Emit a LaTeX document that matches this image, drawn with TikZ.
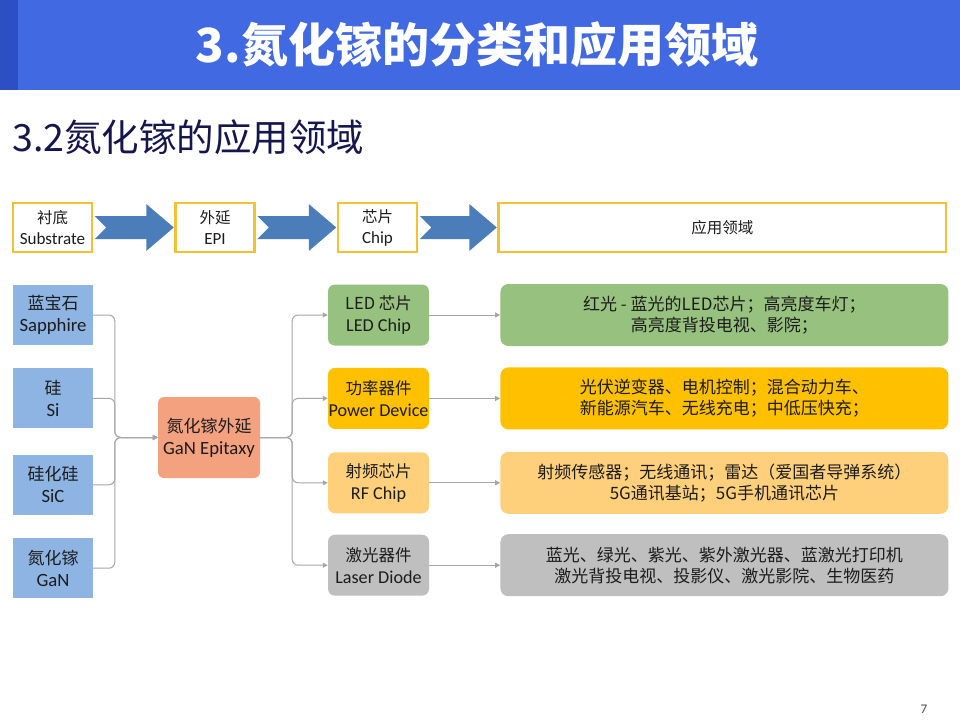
\documentclass[tikz,border=0pt]{standalone}
\usepackage{fontspec}
\setmainfont{Noto Sans CJK SC}
\newfontfamily\latinfont[Scale=1.1]{Carlito}
\usetikzlibrary{arrows.meta,calc,positioning}

\definecolor{barblue}{HTML}{4169E1}
\definecolor{barstrip}{HTML}{2D4FC4}
\definecolor{headnavy}{HTML}{16164F}
\definecolor{stagegold}{HTML}{F2C232}
\definecolor{arrowblue}{HTML}{4A7DBA}
\definecolor{subblue}{HTML}{8EB4E3}
\definecolor{episalmon}{HTML}{F3A17F}
\definecolor{ledgreen}{HTML}{97C17E}
\definecolor{powergold}{HTML}{FFC000}
\definecolor{rforange}{HTML}{FFD07C}
\definecolor{lasergrey}{HTML}{BFBFBF}
\definecolor{conngrey}{HTML}{A6A6A6}
\definecolor{textdark}{HTML}{1C1C1C}

% notched block arrow from one stage box to the next
\newcommand{\flowarrow}[2]{%
  \fill[arrowblue] ($(#1.east)+(1.5,-11.5)$) -- ($(#2.west)+(-28,-11.5)$)
    -- ($(#2.west)+(-28,-23.5)$) -- ($(#2.west)+(-0.5,0)$)
    -- ($(#2.west)+(-28,23.5)$) -- ($(#2.west)+(-28,11.5)$)
    -- ($(#1.east)+(1.5,11.5)$) -- ($(#1.east)+(13,0)$) -- cycle;}

\begin{document}
\begin{tikzpicture}[
    x=1pt, y=-1pt,
    stagebox/.style={draw=stagegold, line width=2.5pt, fill=white, minimum height=49pt, minimum width=79pt, align=center, inner sep=0pt, text=textdark, font=\fontsize{15.5}{21}\selectfont},
    subbox/.style={fill=subblue, minimum height=60pt, minimum width=80pt, align=center, inner sep=0pt, text=textdark, font=\fontsize{17}{22}\selectfont},
    epibox/.style={fill=episalmon, rounded corners=6pt, minimum height=81pt, minimum width=102pt, align=center, inner sep=0pt, text=textdark, font=\fontsize{17}{22}\selectfont},
    catbox/.style={rounded corners=7pt, minimum height=61pt, minimum width=101pt, align=center, inner sep=0pt, text=textdark, font=\fontsize{16.5}{22}\selectfont},
    appbox/.style={rounded corners=8pt, minimum height=62pt, minimum width=448pt, align=center, inner sep=0pt, text=textdark, font=\fontsize{17}{21}\selectfont},
    conn/.style={draw=conngrey, line width=1pt, -{Triangle[length=5pt, width=5pt]}}
  ]
  \useasboundingbox[fill=white] (0,0) rectangle (960,720);

  % title bar
  \fill[barblue] (0,0) rectangle (960,90);
  \fill[barstrip] (0,0) rectangle (18,90);
  \node[text=white, font=\fontsize{47}{50}\selectfont\bfseries] (title) at (477,45) {3.氮化镓的分类和应用领域};
  \node[anchor=west, text=headnavy, font=\fontsize{37.5}{40}\selectfont, inner sep=0pt] (subtitle) at (12,137) {3.2氮化镓的应用领域};

  % value chain row
  \node[stagebox] (substrate) at (52.5,227.5) {衬底\\{\latinfont Substrate}};
  \node[stagebox, right=81pt of substrate] (epi) {外延\\{\latinfont EPI}};
  \node[stagebox, right=81pt of epi] (chip) {芯片\\{\latinfont Chip}};
  \node[stagebox, right=79pt of chip, minimum width=447.5pt] (field) {应用领域};
  \flowarrow{substrate}{epi}
  \flowarrow{epi}{chip}
  \flowarrow{chip}{field}

  % substrates
  \node[subbox] (sapphire) at (53,315) {蓝宝石\\{\latinfont Sapphire}};
  \node[subbox, below=23pt of sapphire] (silicon) {硅\\{\latinfont Si}};
  \node[subbox, below=26pt of silicon] (sic) {硅化硅\\{\latinfont SiC}};
  \node[subbox, below=23pt of sic] (ganwafer) {氮化镓\\{\latinfont GaN}};

  \node[epibox] (epitaxy) at (209,437.5) {氮化镓外延\\{\latinfont GaN Epitaxy}};

  % chips
  \node[catbox, fill=ledgreen] (led) at (378.5,315) {LED 芯片\\{\latinfont LED Chip}};
  \node[catbox, fill=powergold, below=22pt of led] (power) {功率器件\\{\latinfont Power Device}};
  \node[catbox, fill=rforange, below=23pt of power] (rf) {射频芯片\\{\latinfont RF Chip}};
  \node[catbox, fill=lasergrey, below=21pt of rf] (laser) {激光器件\\{\latinfont Laser Diode}};

  % applications
  \node[appbox, fill=ledgreen, right=71pt of led] (app-led) {红光 - 蓝光的LED芯片；高亮度车灯；\\高亮度背投电视、影院；};
  \node[appbox, fill=powergold, right=71pt of power] (app-power) {光伏逆变器、电机控制；混合动力车、\\新能源汽车、无线充电；中低压快充；};
  \node[appbox, fill=rforange, right=71pt of rf] (app-rf) {射频传感器；无线通讯；雷达（爱国者导弹系统）\\5G通讯基站；5G手机通讯芯片};
  \node[appbox, fill=lasergrey, right=71pt of laser] (app-laser) {蓝光、绿光、紫光、紫外激光器、蓝激光打印机\\激光背投电视、投影仪、激光影院、生物医药};

  % connectors
  \coordinate (srcjoin) at ($(epitaxy.west)+(-43,0)$);
  \coordinate (catjoin) at ($(epitaxy.east)+(32,0)$);
  \foreach \s in {sapphire,silicon,sic,ganwafer}
    \draw[conn, rounded corners=6pt] (\s.east) -| (srcjoin) -- (epitaxy.west);
  \foreach \c in {led,power,rf,laser}{
    \draw[conn, rounded corners=6pt] (epitaxy.east) -- (catjoin) |- (\c.west);
    \draw[conn] (\c.east) -- (app-\c.west);
  }

  \node[text=textdark!80, font=\fontsize{12}{13}\selectfont\latinfont] (pagenum) at (924,709) {7};
\end{tikzpicture}
\end{document}
